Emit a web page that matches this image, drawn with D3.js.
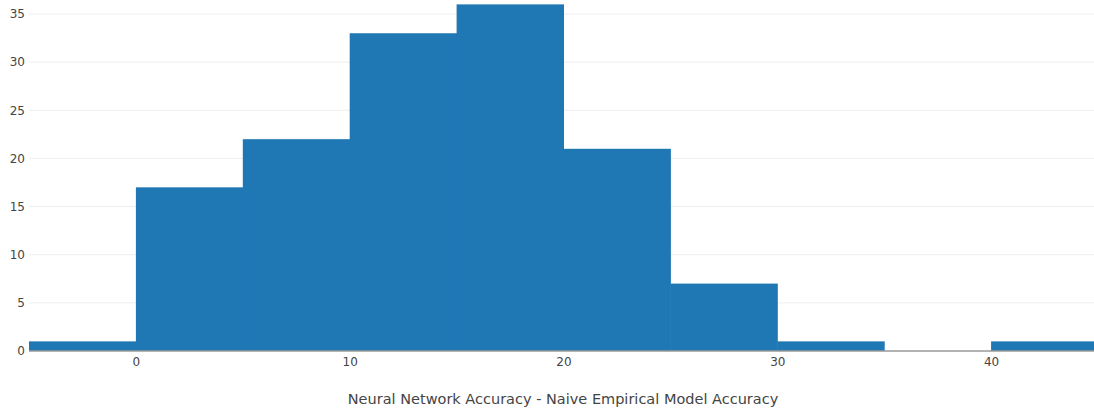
<!DOCTYPE html>
<html><head><meta charset="utf-8">
<script src="https://cdn.jsdelivr.net/npm/d3@7"></script>
<style>body{margin:0;background:#fff;}svg{display:block;}</style>
</head><body>
<svg id="c" width="1094" height="412"></svg>
<script>
const binStarts = [-5, 0, 5, 10, 15, 20, 25, 30, 35, 40];
const binWidth = 5;
const counts = [1, 17, 22, 33, 36, 21, 7, 1, 0, 1];
const xTicks = [0, 10, 20, 30, 40];
const yTicks = [0, 5, 10, 15, 20, 25, 30, 35];
const xTitle = "Neural Network Accuracy - Naive Empirical Model Accuracy";

const svg = d3.select("#c");
const font = "'DejaVu Sans', Verdana, sans-serif";
const x = d3.scaleLinear().domain([-5, 45]).range([29, 1098]);
const y = d3.scaleLinear().domain([0, 35]).range([351, 14]);

// gridlines
svg.append("g").selectAll("line").data(yTicks.filter(d => d > 0)).join("line")
  .attr("x1", 29).attr("x2", 1094)
  .attr("y1", d => y(d)).attr("y2", d => y(d))
  .attr("stroke", "#eeeeee").attr("stroke-width", 1);

// bars
svg.append("g").selectAll("rect").data(binStarts.map((s, i) => ({s, c: counts[i]}))).join("rect")
  .attr("x", d => x(d.s)).attr("width", d => x(d.s + binWidth) - x(d.s) + 0.5)
  .attr("y", d => y(d.c)).attr("height", d => y(0) - y(d.c))
  .attr("fill", "#1f77b4");

// zero line
svg.append("line").attr("x1", 29).attr("x2", 1094)
  .attr("y1", y(0)).attr("y2", y(0)).attr("stroke", "#999").attr("stroke-width", 1.5);

// y axis labels
const yAxis = d3.axisLeft(y).tickValues(yTicks).tickSize(0).tickPadding(4);
const gy = svg.append("g").attr("transform", "translate(29,0)").call(yAxis);
gy.select(".domain").remove();
gy.selectAll("text").attr("font-family", font).attr("font-size", 12).attr("fill", "#444");

// x axis labels
const xAxis = d3.axisBottom(x).tickValues(xTicks).tickSize(0).tickPadding(6);
const gx = svg.append("g").attr("transform", `translate(0,${y(0)})`).call(xAxis);
gx.select(".domain").remove();
gx.selectAll("text").attr("font-family", font).attr("font-size", 12).attr("fill", "#444");

// title
svg.append("text").attr("x", 563).attr("y", 404).attr("text-anchor", "middle")
  .attr("font-family", font).attr("font-size", 14.5).attr("fill", "#444").text(xTitle);
</script>
</body></html>
